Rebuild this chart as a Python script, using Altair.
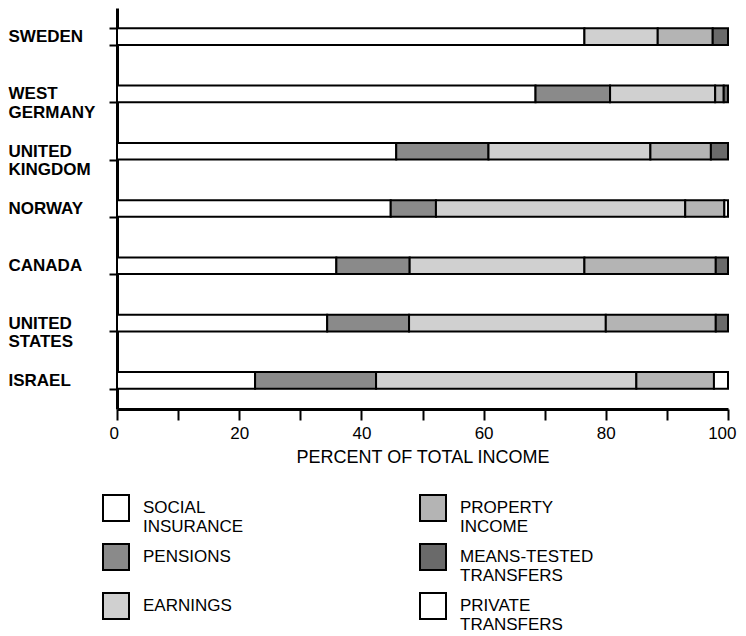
import altair as alt
import pandas as pd

countries = ["SWEDEN", "WEST GERMANY", "UNITED KINGDOM", "NORWAY", "CANADA", "UNITED STATES", "ISRAEL"]
categories = ["SOCIAL INSURANCE", "PENSIONS", "EARNINGS", "PROPERTY INCOME",
              "MEANS-TESTED TRANSFERS", "PRIVATE TRANSFERS"]

social_insurance = [76.5, 68.5, 45.7, 44.8, 35.9, 34.4, 22.6]
pensions = [0.0, 12.2, 15.1, 7.4, 12.0, 13.4, 19.8]
earnings = [12.0, 17.2, 26.5, 40.8, 28.6, 32.2, 42.6]
property_income = [9.0, 1.4, 9.9, 6.4, 21.5, 18.0, 12.7]
means_tested = [2.5, 0.7, 2.8, 0.0, 2.0, 2.0, 0.0]
private_transfers = [0.0, 0.0, 0.0, 0.6, 0.0, 0.0, 2.3]

series = [social_insurance, pensions, earnings, property_income, means_tested, private_transfers]

fill_colors = ["#ffffff", "#8a8a8a", "#d0d0d0", "#b4b4b4", "#6a6a6a", "#ffffff"]

rows = []
for ci, c in enumerate(countries):
    for si, (cat, vals) in enumerate(zip(categories, series)):
        if vals[ci] > 0:
            rows.append({"country": c, "category": cat, "value": vals[ci], "idx": si})
df = pd.DataFrame(rows)

FONT = "Liberation Sans"

chart = alt.Chart(df).mark_bar(stroke="black", strokeWidth=2).encode(
    x=alt.X("value:Q", stack="zero",
            scale=alt.Scale(domain=[0, 100], nice=False),
            axis=alt.Axis(values=list(range(0, 101, 10)),
                          labelExpr="datum.value % 20 === 0 ? datum.label : ''",
                          title="PERCENT OF TOTAL INCOME", titleFontSize=18,
                          titleFontWeight="normal", titleFont=FONT, titlePadding=7,
                          labelFont=FONT, labelFontSize=17, labelColor="black",
                          titleColor="black", tickSize=11, tickWidth=2, tickColor="black",
                          domainWidth=3, domainColor="black", grid=False,
                          labelFlush=True, labelFlushOffset=8, labelPadding=5)),
    y=alt.Y("country:N", sort=countries,
            scale=alt.Scale(paddingInner=0.71, paddingOuter=0.355),
            axis=alt.Axis(title=None, labelAlign="left", labelFont=FONT,
                          labelFontSize=17, labelFontWeight="bold", labelColor="black",
                          labelLineHeight=18.5,
                          labelExpr="split(datum.label, ' ')",
                          tickBand="extent", tickSize=8, tickWidth=2, tickColor="black",
                          domainWidth=3, domainColor="black", labelPadding=101,
                          labelLimit=200)),
    fill=alt.Fill("category:N",
                  scale=alt.Scale(domain=categories, range=fill_colors),
                  legend=alt.Legend(orient="none", legendX=-15, legendY=486,
                                    columns=2, columnPadding=172, rowPadding=5,
                                    symbolType="square", symbolSize=676,
                                    symbolStrokeColor="black", symbolStrokeWidth=2,
                                    symbolOpacity=1,
                                    labelFont=FONT, labelFontSize=17, labelColor="black",
                                    labelExpr="split(datum.label, ' ')",
                                    labelOffset=13, labelLimit=300, title=None,
                                    padding=0)),
    order=alt.Order("idx:Q"),
).properties(
    width=611, height=401,
    autosize=alt.AutoSizeParams(type="none"),
    padding={"left": 109, "top": 0, "right": 10, "bottom": 227},
).configure(
    background="white",
    style={"guide-label": {"lineHeight": 19}},
).configure_view(stroke=None)

chart.save("out.html", embed_options={"renderer": "svg", "actions": False})
